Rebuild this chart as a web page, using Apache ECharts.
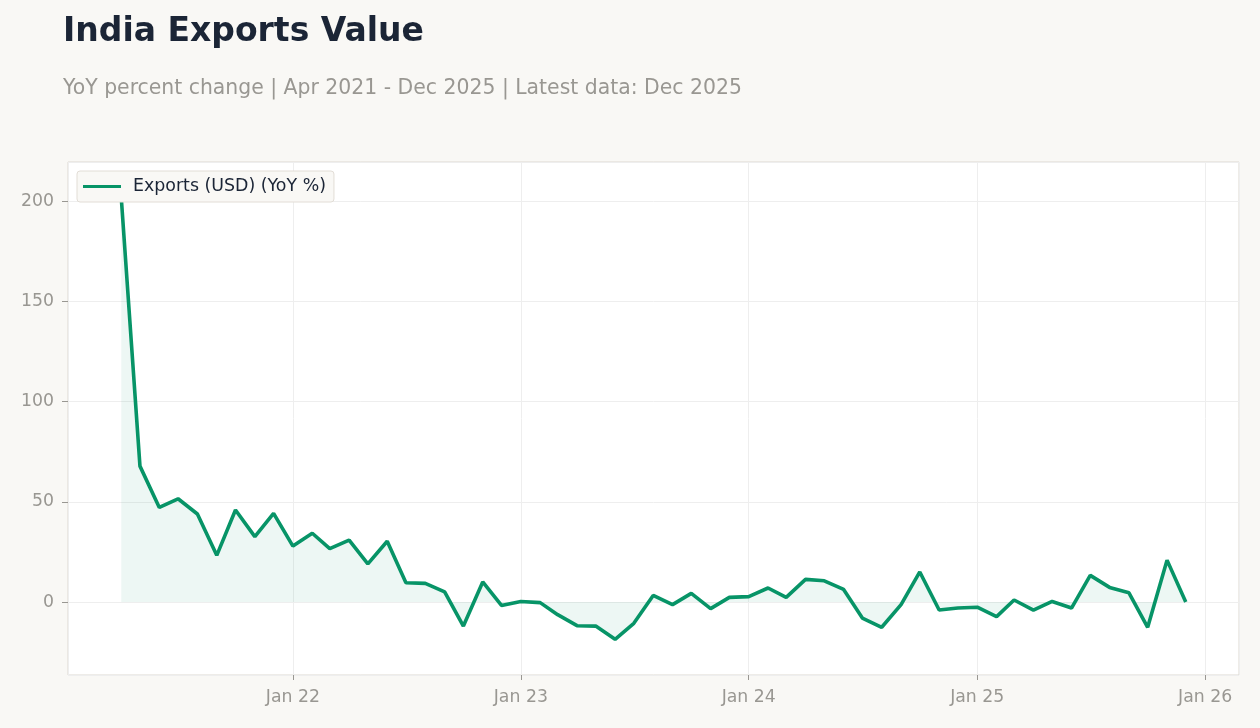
<!DOCTYPE html>
<html>
<head>
<meta charset="utf-8">
<title>India Exports Value</title>
<script src="https://cdn.jsdelivr.net/npm/echarts@6/dist/echarts.min.js"></script>
<style>
  html, body { margin: 0; padding: 0; background: #f9f8f5; }
  #chart { width: 1260px; height: 728px; }
</style>
</head>
<body>
<div id="chart"></div>
<script>
// monthly observations, Apr 2021 - Dec 2025
var months = [
  '2021-04', '2021-05', '2021-06', '2021-07', '2021-08', '2021-09', '2021-10', '2021-11', '2021-12',
  '2022-01', '2022-02', '2022-03', '2022-04', '2022-05', '2022-06', '2022-07', '2022-08', '2022-09', '2022-10', '2022-11', '2022-12',
  '2023-01', '2023-02', '2023-03', '2023-04', '2023-05', '2023-06', '2023-07', '2023-08', '2023-09', '2023-10', '2023-11', '2023-12',
  '2024-01', '2024-02', '2024-03', '2024-04', '2024-05', '2024-06', '2024-07', '2024-08', '2024-09', '2024-10', '2024-11', '2024-12',
  '2025-01', '2025-02', '2025-03', '2025-04', '2025-05', '2025-06', '2025-07', '2025-08', '2025-09', '2025-10', '2025-11', '2025-12'
]
// exports YoY %
var exportsYoY = [
  202, 67.8, 47.2, 51.5, 43.9, 23.3, 45.9, 32.6, 44.2,
  27.9, 34.3, 26.6, 30.9, 19.0, 30.3, 9.6, 9.3, 5.1, -12.0, 10.0, -1.7,
  0.3, -0.3, -6.3, -11.8, -12.0, -18.6, -10.6, 3.3, -1.3, 4.3, -3.3, 2.3,
  2.7, 7.0, 2.3, 11.3, 10.6, 6.3, -8.0, -12.6, -1.3, 15.0, -4.0, -3.0,
  -2.6, -7.3, 1.0, -4.0, 0.3, -3.0, 13.3, 7.3, 4.6, -12.6, 20.9, 0.0
]

var seriesData = months.map(function (m, i) {
  return [m + '-01', exportsYoY[i]]
})

// 5% padding either side of the data span, like the source chart
var t0 = +new Date(months[0] + '-01')
var t1 = +new Date(months[months.length - 1] + '-01')
var pad = (t1 - t0) * 0.05

var FONT = '"DejaVu Sans", Verdana, sans-serif'
var grey = '#999792'
var ink = '#1b2536'

var chart = echarts.init(document.getElementById('chart'))
chart.setOption({
  backgroundColor: '#f9f8f5',
  animation: false,
  textStyle: { fontFamily: FONT },
  title: [
    {
      text: 'India Exports Value',
      left: 58,
      top: 11,
      textStyle: { fontSize: 33, fontWeight: 'bold', color: ink, fontFamily: FONT }
    },
    {
      text: 'YoY percent change | Apr 2021 - Dec 2025 | Latest data: Dec 2025',
      left: 58,
      top: 74,
      textStyle: { fontSize: 20.4, fontWeight: 'normal', color: grey, fontFamily: FONT }
    }
  ],
  legend: {
    left: 77,
    top: 171,
    orient: 'vertical',
    padding: [7, 8, 7, 6],
    backgroundColor: '#f9f8f5',
    borderColor: '#e2ddd6',
    borderWidth: 1,
    borderRadius: 3,
    itemWidth: 38,
    itemHeight: 3,
    itemGap: 6,
    icon: 'rect',
    textStyle: { fontSize: 17.4, color: ink, fontFamily: FONT, padding: [0, 0, 0, 7] },
    data: ['Exports (USD) (YoY %)']
  },
  grid: {
    left: 68,
    top: 162,
    right: 21,
    bottom: 53,
    show: true,
    backgroundColor: '#ffffff',
    borderColor: '#ddd8d0',
    borderWidth: 1
  },
  xAxis: {
    type: 'time',
    min: t0 - pad,
    max: t1 + pad,
    splitNumber: 5,
    axisLine: { show: false, onZero: false },
    axisTick: { show: true, length: 5, lineStyle: { color: grey } },
    splitLine: { show: true, lineStyle: { color: '#eeeeee', width: 1 } },
    axisLabel: {
      color: grey,
      fontSize: 17.3,
      fontFamily: FONT,
      margin: 14,
      showMinLabel: false,
      showMaxLabel: false,
      formatter: function (val) {
        var d = new Date(val)
        return 'Jan ' + String(d.getFullYear()).slice(2)
      }
    }
  },
  yAxis: {
    type: 'value',
    min: -36.4,
    max: 219.5,
    axisLine: { show: false },
    axisTick: { show: true, length: 6, lineStyle: { color: grey } },
    splitLine: { show: true, lineStyle: { color: '#eeeeee', width: 1 } },
    axisLabel: {
      color: grey,
      fontSize: 17.3,
      fontFamily: FONT,
      margin: 14,
      showMinLabel: false,
      showMaxLabel: false
    }
  },
  series: [
    {
      name: 'Exports (USD) (YoY %)',
      type: 'line',
      data: seriesData,
      showSymbol: false,
      symbol: 'none',
      color: '#079467',
      lineStyle: { width: 3.6, color: '#079467' },
      areaStyle: { color: 'rgba(7,148,103,0.1)', origin: 0 }
    }
  ]
})
</script>
</body>
</html>
